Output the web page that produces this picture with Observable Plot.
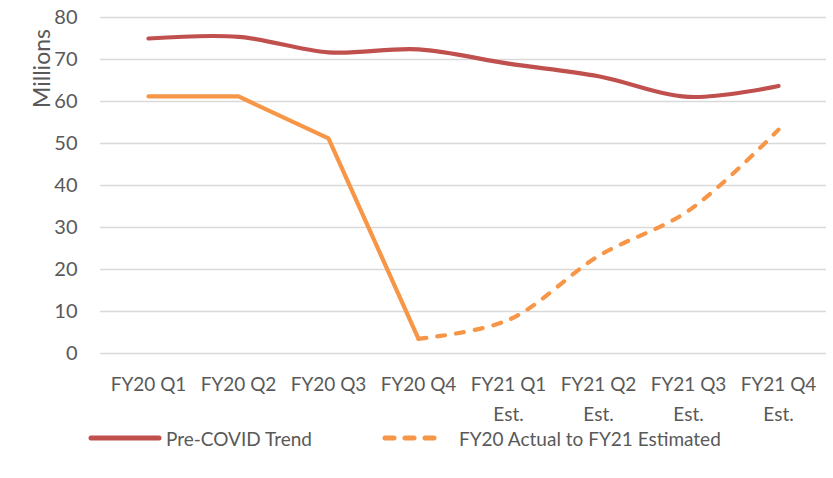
<!DOCTYPE html>
<html><head><meta charset="utf-8">
<script src="https://cdn.jsdelivr.net/npm/d3@7"></script>
<script src="https://cdn.jsdelivr.net/npm/@observablehq/plot@0.6"></script>
<style>
body{margin:0;background:#fff;font-family:Lato,"Open Sans",sans-serif;color:#595959;position:relative;width:833px;height:478px;overflow:hidden;}
#legend{position:absolute;left:0;top:426px;width:833px;height:24px;font-size:19px;}
.item{position:absolute;top:0;display:flex;align-items:center;height:24px;}
</style></head><body>
<div id="chart"></div>
<div id="legend">
  <div class="item" style="left:88px"><svg width="74" height="10"><line x1="3" x2="71" y1="5" y2="5" stroke="#C0504D" stroke-width="5" stroke-linecap="round"/></svg><span style="margin-left:4px">Pre-COVID Trend</span></div>
  <div class="item" style="left:381px"><svg width="62" height="10"><line x1="4" x2="60" y1="5" y2="5" stroke="#F79646" stroke-width="5" stroke-linecap="round" stroke-dasharray="9,11"/></svg><span style="margin-left:16px">FY20 Actual to FY21 Estimated</span></div>
</div>
<script>
const categories = ["FY20 Q1","FY20 Q2","FY20 Q3","FY20 Q4","FY21 Q1\nEst.","FY21 Q2\nEst.","FY21 Q3\nEst.","FY21 Q4\nEst."];
const preCovid = [75.0, 75.4, 71.7, 72.4, 69.0, 66.0, 61.1, 63.7];
const actualEst = [61.2, 61.2, 51.2, 3.5, 8.0, 23.2, 34.0, 53.3];
const yTicks = [0,10,20,30,40,50,60,70,80];

const red = categories.map((c,i)=>({c, v: preCovid[i]}));
const orange = categories.map((c,i)=>({c, v: actualEst[i]}));
const solid = orange.slice(0,4);
const dashed = orange.slice(3);

const plot = Plot.plot({
  width: 833, height: 426,
  marginLeft: 100, marginRight: 7, marginTop: 17, marginBottom: 73,
  style: {fontFamily: "Lato, 'Open Sans', sans-serif", fontSize: "19px", color: "#595959", background: "#fff", overflow: "visible"},
  x: {type: "point", domain: categories, padding: 0.5, label: null},
  y: {domain: [0, 80], label: null},
  marks: [
    Plot.ruleY(yTicks, {stroke: "#D9D9D9", strokeWidth: 1.3}),
    Plot.axisY({ticks: yTicks, tickSize: 0, tickPadding: 23, label: null, fill: "#595959", fontSize: 20}),
    Plot.axisX({tickSize: 0, tickPadding: 16, label: null, fill: "#595959", lineHeight: 1.6}),
    Plot.line(red, {x: "c", y: "v", stroke: "#C0504D", strokeWidth: 4.2, curve: "catmull-rom", strokeLinecap: "round"}),
    Plot.line(solid, {x: "c", y: "v", stroke: "#F79646", strokeWidth: 4.2, curve: "linear", strokeLinecap: "round"}),
    Plot.line(dashed, {x: "c", y: "v", stroke: "#F79646", strokeWidth: 4.2, curve: "catmull-rom", strokeLinecap: "round", strokeDasharray: "8,11"}),
    Plot.text(["Millions"], {frameAnchor: "top-left", dx: -67, dy: 51, rotate: -90, fill: "#595959", fontSize: 23, textAnchor: "middle"})
  ]
});
document.getElementById("chart").appendChild(plot);
</script>
</body></html>
